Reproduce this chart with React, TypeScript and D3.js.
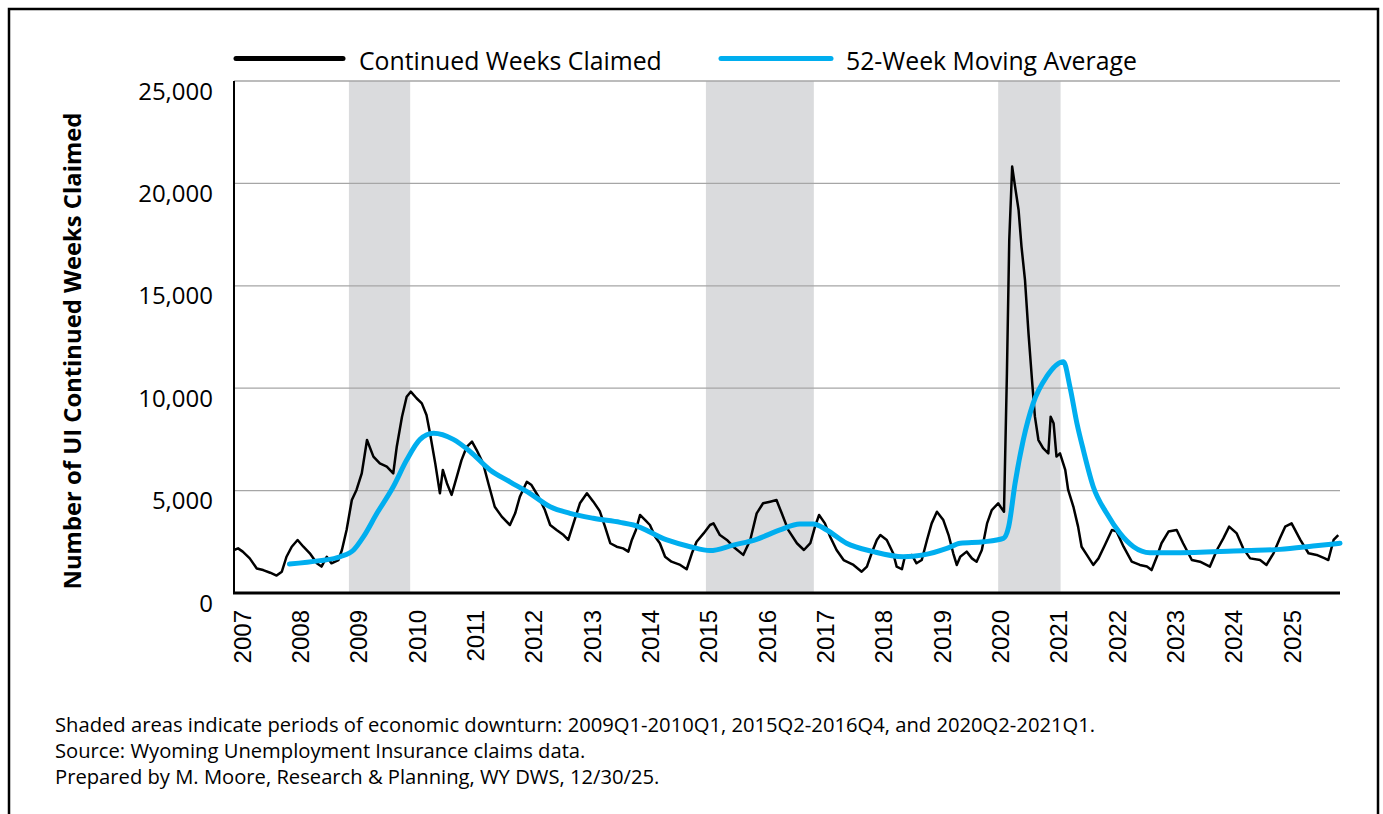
import React from "react";
import * as d3 from "d3";

// ---- Data ----
const claimYears = [
  2007.0, 2007.07, 2007.15, 2007.27, 2007.39, 2007.5, 2007.62, 2007.73, 2007.82, 2007.9,
  2007.99, 2008.09, 2008.19, 2008.3, 2008.42, 2008.5, 2008.59, 2008.67, 2008.79, 2008.85,
  2008.93, 2009.02, 2009.1, 2009.19, 2009.28, 2009.39, 2009.5, 2009.62, 2009.73, 2009.79,
  2009.88, 2009.96, 2010.03, 2010.13, 2010.22, 2010.3, 2010.36, 2010.45, 2010.53, 2010.58,
  2010.65, 2010.73, 2010.82, 2010.9, 2010.99, 2011.08, 2011.16, 2011.27, 2011.36, 2011.47,
  2011.59, 2011.73, 2011.82, 2011.9, 2012.02, 2012.1, 2012.22, 2012.33, 2012.42, 2012.53,
  2012.65, 2012.73, 2012.82, 2012.93, 2013.05, 2013.16, 2013.27, 2013.36, 2013.45, 2013.56,
  2013.67, 2013.76, 2013.82, 2013.89, 2013.96, 2014.05, 2014.13, 2014.22, 2014.3, 2014.39,
  2014.5, 2014.65, 2014.76, 2014.85, 2014.93, 2015.05, 2015.16, 2015.22, 2015.33, 2015.45,
  2015.56, 2015.73, 2015.85, 2015.96, 2016.07, 2016.19, 2016.3, 2016.39, 2016.5, 2016.65,
  2016.77, 2016.88, 2016.96, 2017.03, 2017.13, 2017.22, 2017.33, 2017.45, 2017.62, 2017.76,
  2017.85, 2017.93, 2018.02, 2018.08, 2018.19, 2018.3, 2018.36, 2018.45, 2018.5, 2018.62,
  2018.7, 2018.79, 2018.88, 2018.96, 2019.05, 2019.16, 2019.25, 2019.33, 2019.39, 2019.45,
  2019.56, 2019.65, 2019.73, 2019.82, 2019.91, 2019.99, 2020.1, 2020.14, 2020.2, 2020.25,
  2020.29, 2020.34, 2020.39, 2020.45, 2020.5, 2020.56, 2020.62, 2020.68, 2020.73, 2020.79,
  2020.87, 2020.96, 2021.0, 2021.05, 2021.1, 2021.16, 2021.25, 2021.3, 2021.39, 2021.47,
  2021.53, 2021.62, 2021.73, 2021.82, 2021.93, 2022.05, 2022.13, 2022.25, 2022.39, 2022.53,
  2022.65, 2022.73, 2022.82, 2022.9, 2023.02, 2023.16, 2023.27, 2023.42, 2023.56, 2023.73,
  2023.85, 2023.96, 2024.06, 2024.19, 2024.3, 2024.42, 2024.59, 2024.7, 2024.82, 2024.93,
  2025.02, 2025.13, 2025.28, 2025.42, 2025.56, 2025.7, 2025.76, 2025.85, 2025.93,
];
const claimValues = [
  2100, 2180, 2020, 1690, 1200, 1120, 990, 850, 1040, 1770,
  2260, 2590, 2260, 1940, 1450, 1290, 1770, 1450, 1610, 2100,
  3080, 4540, 5030, 5840, 7470, 6660, 6330, 6170, 5840, 7140,
  8610, 9580, 9830, 9510, 9260, 8690, 7800, 6330, 4870, 6010,
  5360, 4790, 5680, 6490, 7140, 7390, 6980, 6330, 5360, 4210,
  3730, 3320, 3890, 4700, 5430, 5270, 4700, 4050, 3320, 3080,
  2830, 2590, 3400, 4380, 4870, 4460, 4000, 3240, 2430, 2260,
  2180, 2020, 2590, 3080, 3810, 3560, 3320, 2750, 2430, 1770,
  1530, 1370, 1160, 1940, 2500, 2910, 3320, 3400, 2830, 2590,
  2260, 1860, 2590, 3890, 4380, 4460, 4540, 3890, 3080, 2430,
  2100, 2430, 3240, 3810, 3400, 2750, 2100, 1610, 1370, 1040,
  1290, 1940, 2590, 2830, 2590, 1940, 1290, 1160, 1770, 1860,
  1450, 1610, 2590, 3400, 3970, 3560, 2830, 1940, 1370, 1770,
  2020, 1690, 1530, 2100, 3400, 4050, 4380, 4210, 3970, 10730,
  17240, 20820, 19840, 18700, 16910, 15280, 12680, 10400, 8610, 7470,
  7070, 6820, 8610, 8290, 6660, 6820, 6010, 5030, 4210, 3240,
  2260, 1860, 1370, 1690, 2340, 3080, 3000, 2260, 1530, 1370,
  1290, 1120, 1770, 2430, 3000, 3080, 2430, 1610, 1530, 1290,
  2100, 2670, 3240, 2910, 2180, 1690, 1610, 1370, 1940, 2670,
  3240, 3400, 2590, 1940, 1860, 1690, 1610, 2590, 2830,
];

const avgYears = [
  2007.95, 2008.47, 2008.82, 2009.05, 2009.22, 2009.45, 2009.73, 2009.96, 2010.19, 2010.42,
  2010.76, 2011.05, 2011.39, 2011.73, 2012.07, 2012.42, 2012.76, 2013.16, 2013.62, 2013.85,
  2014.42, 2014.82, 2015.16, 2015.56, 2015.96, 2016.36, 2016.7, 2016.93, 2017.16, 2017.5,
  2017.96, 2018.47, 2018.82, 2019.22, 2019.45, 2019.85, 2020.19, 2020.28, 2020.39, 2020.53,
  2020.7, 2020.93, 2021.22, 2021.33, 2021.45, 2021.56, 2021.73, 2021.96, 2022.19, 2022.42,
  2022.7, 2023.22, 2024.36, 2024.93, 2025.5, 2025.96,
];
const avgValues = [
  1420, 1580, 1770, 2100, 2750, 3890, 5190, 6490, 7500, 7800,
  7500, 6900, 6010, 5430, 4870, 4210, 3890, 3650, 3450, 3320,
  2590, 2260, 2070, 2340, 2620, 3080, 3370, 3370, 3080, 2430,
  2020, 1770, 1860, 2180, 2430, 2500, 2670, 3240, 5360, 7470,
  9260, 10560, 11290, 10070, 8290, 6980, 5190, 3890, 2910, 2260,
  1970, 1970, 2070, 2130, 2290, 2430,
];

const yearTicks = [
  2007, 2008, 2009, 2010, 2011, 2012, 2013, 2014, 2015, 2016,
  2017, 2018, 2019, 2020, 2021, 2022, 2023, 2024, 2025,
];
const valueTicks = [0, 5000, 10000, 15000, 20000, 25000];

const downturnStarts = [2008.97, 2015.09, 2020.1];
const downturnEnds = [2010.02, 2016.94, 2021.17];

const seriesNames = ["Continued Weeks Claimed", "52-Week Moving Average"];
const footerLines = [
  "Shaded areas indicate periods of economic downturn: 2009Q1-2010Q1, 2015Q2-2016Q4, and 2020Q2-2021Q1.",
  "Source: Wyoming Unemployment Insurance claims data.",
  "Prepared by M. Moore, Research & Planning, WY DWS, 12/30/25.",
];
const yTitle = "Number of UI Continued Weeks Claimed";

// ---- Layout ----
const W = 1383;
const H = 814;
const left = 234;
const right = 1340;
const top = 81;
const bottom = 593;

const BLACK = "#000000";
const BLUE = "#00AEEF";
const SHADE = "#DADBDD";
const GRID = "#A6A6A6";
const FONT = "'Open Sans', 'Noto Sans', sans-serif";

export default function App() {
  const x = d3.scaleLinear().domain([2007, 2025.96]).range([left, right]);
  const y = d3.scaleLinear().domain([0, 25000]).range([bottom, top]);

  const claims = claimYears.map((t, i) => [t, claimValues[i]] as [number, number]);
  const avg = avgYears.map((t, i) => [t, avgValues[i]] as [number, number]);

  const claimLine = d3
    .line<[number, number]>()
    .x((d) => x(d[0]))
    .y((d) => y(d[1]))
    .curve(d3.curveLinear);
  const avgLine = d3
    .line<[number, number]>()
    .x((d) => x(d[0]))
    .y((d) => y(d[1]))
    .curve(d3.curveMonotoneX);

  return (
    <svg
      width={W}
      height={H}
      style={{ position: "absolute", left: 0, top: 0, background: "#fff" }}
    >
      <rect x={0} y={0} width={W} height={H} fill="#fff" />
      {/* frame */}
      <rect x={9} y={9} width={1369} height={840} fill="none" stroke={BLACK} strokeWidth={2.5} />

      {/* shaded downturns */}
      {downturnStarts.map((s, i) => (
        <rect
          key={"sh" + i}
          x={x(s)}
          y={top}
          width={x(downturnEnds[i]) - x(s)}
          height={bottom - top}
          fill={SHADE}
        />
      ))}

      {/* gridlines */}
      {valueTicks
        .filter((v) => v > 0)
        .map((v) => (
          <line key={"g" + v} x1={left} x2={right} y1={y(v)} y2={y(v)} stroke={GRID} strokeWidth={1.3} />
        ))}

      {/* y tick labels */}
      {valueTicks.map((v) => (
        <text
          key={"yl" + v}
          x={213}
          y={y(v) + 18.5}
          textAnchor="end"
          fontFamily={FONT}
          fontSize={24}
          fill={BLACK}
        >
          {d3.format(",")(v)}
        </text>
      ))}

      {/* x tick labels */}
      {yearTicks.map((yr) => (
        <text
          key={"xl" + yr}
          transform={`translate(${x(yr) + 16.5},${610}) rotate(-90)`}
          textAnchor="end"
          fontFamily="'Liberation Sans', Arial, sans-serif"
          fontSize={24}
          fill={BLACK}
        >
          {yr}
        </text>
      ))}

      {/* data lines */}
      <path d={claimLine(claims) || ""} fill="none" stroke={BLACK} strokeWidth={2.5} strokeLinejoin="round" />
      <path d={avgLine(avg) || ""} fill="none" stroke={BLUE} strokeWidth={5} strokeLinejoin="round" strokeLinecap="round" />

      {/* axes */}
      <line x1={left} x2={left} y1={top} y2={bottom} stroke={BLACK} strokeWidth={2} />
      <line x1={left - 1} x2={right} y1={bottom} y2={bottom} stroke={BLACK} strokeWidth={3} />

      {/* legend */}
      <line x1={236} x2={343} y1={58.5} y2={58.5} stroke={BLACK} strokeWidth={5} strokeLinecap="round" />
      <text x={359} y={70} fontFamily={FONT} fontSize={24.8} fill={BLACK}>
        {seriesNames[0]}
      </text>
      <line x1={721} x2={831} y1={58.5} y2={58.5} stroke={BLUE} strokeWidth={5} strokeLinecap="round" />
      <text x={846} y={70} fontFamily={FONT} fontSize={24.8} fill={BLACK}>
        {seriesNames[1]}
      </text>

      {/* y title */}
      <text
        transform={`translate(81,351) rotate(-90)`}
        textAnchor="middle"
        fontFamily={FONT}
        fontWeight="bold"
        fontSize={23.8}
        fill={BLACK}
      >
        {yTitle}
      </text>

      {/* footer */}
      {footerLines.map((s, i) => (
        <text key={"f" + i} x={55} y={732 + i * 26} fontFamily={FONT} fontSize={20.2} fill={BLACK}>
          {s}
        </text>
      ))}
    </svg>
  );
}
